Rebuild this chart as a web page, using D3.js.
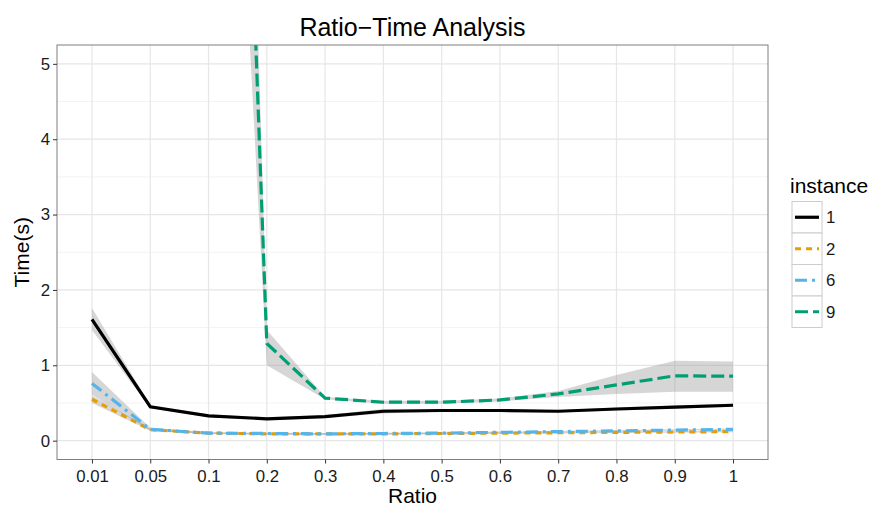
<!DOCTYPE html>
<html><head><meta charset="utf-8">
<script src="https://cdn.jsdelivr.net/npm/d3@7"></script>
<style>body{margin:0;background:#fff}svg{font-family:"Liberation Sans",Arial,sans-serif}</style>
</head><body><svg id="c" width="874" height="508"></svg>
<script>
const ratios = ["0.01","0.05","0.1","0.2","0.3","0.4","0.5","0.6","0.7","0.8","0.9","1"];
const yTicks = [0,1,2,3,4,5];
const instances = ["1","2","6","9"];
const colors = ["#000000","#E69F00","#56B4E9","#009E73"];
// mean values
const inst1 = [1.61,0.45,0.33,0.29,0.32,0.39,0.40,0.40,0.39,0.42,0.445,0.47];
const inst2 = [0.55,0.145,0.10,0.09,0.09,0.09,0.095,0.10,0.105,0.11,0.115,0.12];
const inst6 = [0.76,0.15,0.10,0.095,0.09,0.095,0.10,0.11,0.12,0.13,0.14,0.15];
const inst9 = [60,40,22.3,1.29,0.565,0.51,0.51,0.54,0.62,0.74,0.86,0.855];
// ribbon bounds
const lo1 = [1.47,0.43,0.31,0.27,0.30,0.36,0.385,0.385,0.375,0.40,0.425,0.45];
const hi1 = [1.76,0.47,0.35,0.31,0.34,0.42,0.415,0.415,0.405,0.44,0.465,0.49];
const lo2 = [0.50,0.13,0.09,0.08,0.08,0.08,0.085,0.09,0.095,0.10,0.105,0.11];
const hi2 = [0.60,0.16,0.11,0.10,0.10,0.10,0.105,0.11,0.115,0.12,0.125,0.13];
const lo6 = [0.61,0.13,0.09,0.085,0.08,0.085,0.09,0.10,0.11,0.12,0.13,0.14];
const hi6 = [0.91,0.17,0.11,0.105,0.10,0.105,0.11,0.12,0.13,0.14,0.15,0.16];
const lo9 = [50,33,15.6,1.0,0.55,0.49,0.49,0.52,0.58,0.62,0.65,0.65];
const hi9 = [70,47,28.0,1.47,0.58,0.53,0.53,0.56,0.66,0.87,1.06,1.05];

const means = [inst1,inst2,inst6,inst9];
const los = [lo1,lo2,lo6,lo9];
const his = [hi1,hi2,hi6,hi9];

const svg = d3.select("#c");
const L=57, R=768, T=45, B=459.5;
const x = d3.scalePoint().domain(ratios).range([L,R]).padding(0.6);
const y = d3.scaleLinear().domain([-0.25,5.25]).range([B,T]);

// grid
const g = svg.append("g");
const minor = [0.5,1.5,2.5,3.5,4.5];
g.selectAll(".mn").data(minor).join("line").attr("x1",L).attr("x2",R)
 .attr("y1",d=>y(d)).attr("y2",d=>y(d)).attr("stroke","#f3f3f3").attr("stroke-width",1);
g.selectAll(".my").data(yTicks).join("line").attr("x1",L).attr("x2",R)
 .attr("y1",d=>y(d)).attr("y2",d=>y(d)).attr("stroke","#e6e6e6").attr("stroke-width",1.2);
g.selectAll(".mx").data(ratios).join("line").attr("y1",T).attr("y2",B)
 .attr("x1",d=>x(d)).attr("x2",d=>x(d)).attr("stroke","#e6e6e6").attr("stroke-width",1.2);

svg.append("clipPath").attr("id","clip").append("rect").attr("x",L).attr("y",T).attr("width",R-L).attr("height",B-T);
const p = svg.append("g").attr("clip-path","url(#clip)");

const area = d3.area().x((d,i)=>x(ratios[i])).y0(d=>y(d[0])).y1(d=>y(d[1]));
const line = d3.line().x((d,i)=>x(ratios[i])).y(d=>y(d));
const dashes = [null,"6,5","12,5,3,5","13,5"];
instances.forEach((k,j)=>{
  const band = los[j].map((v,i)=>[v,his[j][i]]);
  p.append("path").attr("d",area(band)).attr("fill","#999999").attr("fill-opacity",0.4);
  p.append("path").attr("d",line(means[j])).attr("fill","none").attr("stroke",colors[j])
   .attr("stroke-width",3.2).attr("stroke-dasharray",dashes[j]);
});

// panel border
svg.append("rect").attr("x",L).attr("y",T).attr("width",R-L).attr("height",B-T)
 .attr("fill","none").attr("stroke","#7f7f7f").attr("stroke-width",1);

// axes
const xa = svg.append("g").attr("transform",`translate(0,${B})`).call(d3.axisBottom(x).tickSize(4).tickPadding(7));
const ya = svg.append("g").attr("transform",`translate(${L},0)`).call(d3.axisLeft(y).tickValues(yTicks).tickFormat(d3.format("d")).tickSize(4).tickPadding(3));
[xa,ya].forEach(a=>{a.select(".domain").remove();
  a.selectAll("line").attr("stroke","#333").attr("stroke-width",1);
  a.selectAll("text").attr("fill","#1a1a1a").style("font-size","16.8px").style("font-family","Liberation Sans, Arial, sans-serif");});

svg.append("text").attr("x",(L+R)/2).attr("y",36).attr("text-anchor","middle")
 .style("font-size","25px").text("Ratio\u2212Time Analysis");
svg.append("text").attr("x",(L+R)/2).attr("y",503).attr("text-anchor","middle")
 .style("font-size","21px").text("Ratio");
svg.append("text").attr("transform",`translate(29,${(T+B)/2}) rotate(-90)`).attr("text-anchor","middle")
 .style("font-size","21px").text("Time(s)");

// legend
const lg = svg.append("g");
lg.append("text").attr("x",790).attr("y",193).style("font-size","21px").text("instance");
const kx=792, ky=201.5, kw=30, kh=31.5;
instances.forEach((k,j)=>{
  const yy = ky + j*kh;
  lg.append("rect").attr("x",kx).attr("y",yy).attr("width",kw).attr("height",kh)
    .attr("fill","#fff").attr("stroke","#cccccc").attr("stroke-width",1);
  lg.append("line").attr("x1",kx+3).attr("x2",kx+kw-3).attr("y1",yy+kh/2).attr("y2",yy+kh/2)
    .attr("stroke",colors[j]).attr("stroke-width",3.2).attr("stroke-dasharray",dashes[j]);
  lg.append("text").attr("x",kx+kw+4).attr("y",yy+kh/2+6).style("font-size","16.8px").attr("fill","#1a1a1a").text(k);
});
</script></body></html>
